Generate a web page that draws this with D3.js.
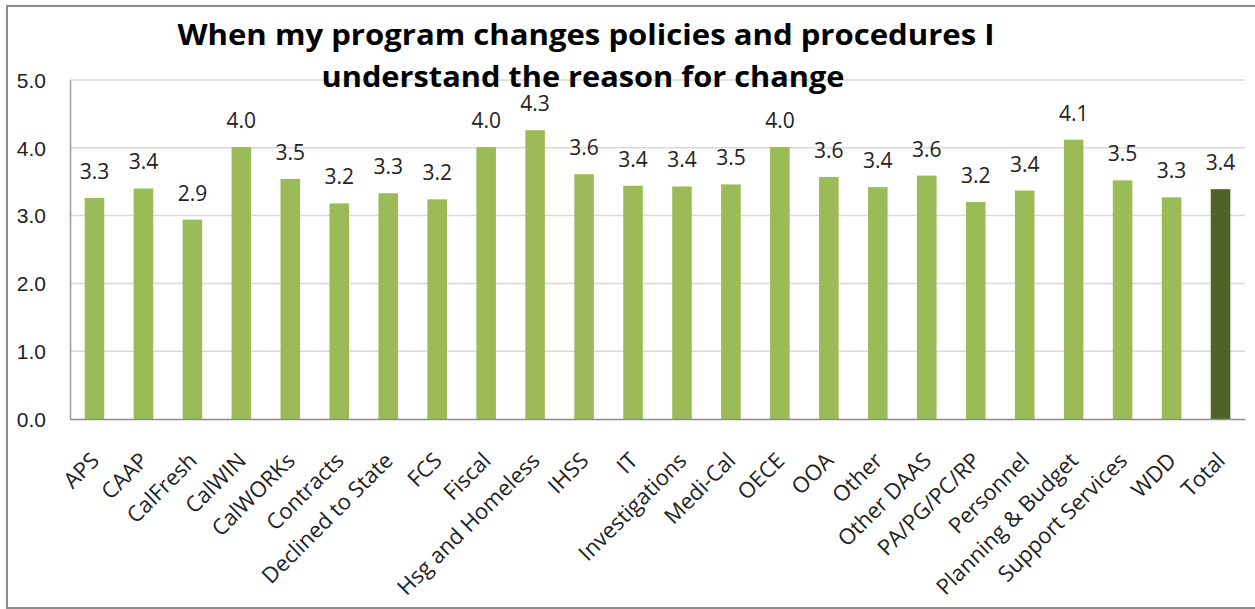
<!DOCTYPE html>
<html>
<head>
<meta charset="utf-8">
<script src="https://cdn.jsdelivr.net/npm/d3@7"></script>
<style>
  body { margin: 0; background: #fff; }
  svg { display: block; font-family: "Open Sans", "Noto Sans", sans-serif; }
</style>
</head>
<body>
<div id="chart"></div>
<script>
// data
const categories = ["APS", "CAAP", "CalFresh", "CalWIN", "CalWORKs", "Contracts", "Declined to State",
    "FCS", "Fiscal", "Hsg and Homeless", "IHSS", "IT", "Investigations", "Medi-Cal", "OECE", "OOA",
    "Other", "Other DAAS", "PA/PG/PC/RP", "Personnel", "Planning & Budget", "Support Services", "WDD", "Total"];
const values = [3.26, 3.40, 2.94, 4.01, 3.54, 3.18, 3.33,
    3.24, 4.01, 4.26, 3.61, 3.44, 3.43, 3.46, 4.01, 3.57,
    3.42, 3.59, 3.20, 3.37, 4.12, 3.52, 3.27, 3.39];
const yTicks = [0, 1, 2, 3, 4, 5];
const titleLines = ["When my program changes policies and procedures I", "understand the reason for change"];

const width = 1255, height = 609;
const plotLeft = 70, plotRight = 1245, plotTop = 80, plotBottom = 419;

const svg = d3.select("#chart").append("svg")
    .attr("width", width).attr("height", height)
    .attr("viewBox", `0 0 ${width} ${height}`);

// outer frame of the chart object
svg.append("rect")
    .attr("x", 7).attr("y", 6)
    .attr("width", width + 20).attr("height", 602)
    .style("fill", "#fff")
    .style("stroke", "#8c8c8c")
    .style("stroke-width", 2);

const x = d3.scaleBand()
    .domain(categories)
    .range([plotLeft, plotRight])
    .paddingInner(0.6)
    .paddingOuter(0.3);

const y = d3.scaleLinear()
    .domain([0, 5])
    .range([plotBottom, plotTop]);

const fmt = d3.format(".1f");

// gridlines
svg.append("g")
    .selectAll("line")
    .data(yTicks.filter(d => d > 0))
    .enter().append("line")
    .attr("x1", plotLeft).attr("x2", plotRight)
    .attr("y1", d => y(d)).attr("y2", d => y(d))
    .style("stroke", "#d9d9d9")
    .style("stroke-width", 1.5);

// y axis
const yAxis = svg.append("g")
    .attr("transform", `translate(${plotLeft},0)`)
    .call(d3.axisLeft(y).tickValues(yTicks).tickFormat(fmt).tickSize(0).tickPadding(24));
yAxis.select(".domain").style("stroke", "#9a9a9a").style("stroke-width", 1.5);
yAxis.selectAll("text")
    .style("font-size", "21px")
    .style("fill", "#222")
    .attr("dy", "0.35em");

// bars
svg.append("g")
    .selectAll("rect")
    .data(categories)
    .enter().append("rect")
    .attr("x", d => x(d))
    .attr("width", x.bandwidth())
    .attr("y", (d, i) => y(values[i]))
    .attr("height", (d, i) => y(0) - y(values[i]))
    .style("fill", d => d == "Total" ? "#4f6228" : "#9bbb59");

// value labels
svg.append("g")
    .selectAll("text")
    .data(categories)
    .enter().append("text")
    .attr("x", d => x(d) + x.bandwidth() / 2)
    .attr("y", (d, i) => y(values[i]) - 19)
    .attr("text-anchor", "middle")
    .style("font-size", "21px")
    .style("fill", "#222")
    .text((d, i) => fmt(values[i]));

// x axis
const xAxis = svg.append("g")
    .attr("transform", `translate(0,${plotBottom})`)
    .call(d3.axisBottom(x).tickSize(0).tickFormat(""));
xAxis.select(".domain").style("stroke", "#8c8c8c").style("stroke-width", 1.5);

svg.append("g")
    .selectAll("text")
    .data(categories)
    .enter().append("text")
    .attr("transform", d => `translate(${x(d) + x.bandwidth() / 2 + 6},${plotBottom + 43}) rotate(-45)`)
    .attr("text-anchor", "end")
    .style("font-size", "22px")
    .style("fill", "#222")
    .text(d => d);

// title
svg.append("g")
    .selectAll("text")
    .data(titleLines)
    .enter().append("text")
    .attr("x", (d, i) => i == 0 ? 586 : 583)
    .attr("y", (d, i) => 45 + i * 42)
    .attr("text-anchor", "middle")
    .attr("textLength", (d, i) => i == 0 ? 817 : 523)
    .attr("lengthAdjust", "spacingAndGlyphs")
    .style("font-size", "28px")
    .style("font-weight", "700")
    .style("fill", "#000")
    .text(d => d);
</script>
</body>
</html>
